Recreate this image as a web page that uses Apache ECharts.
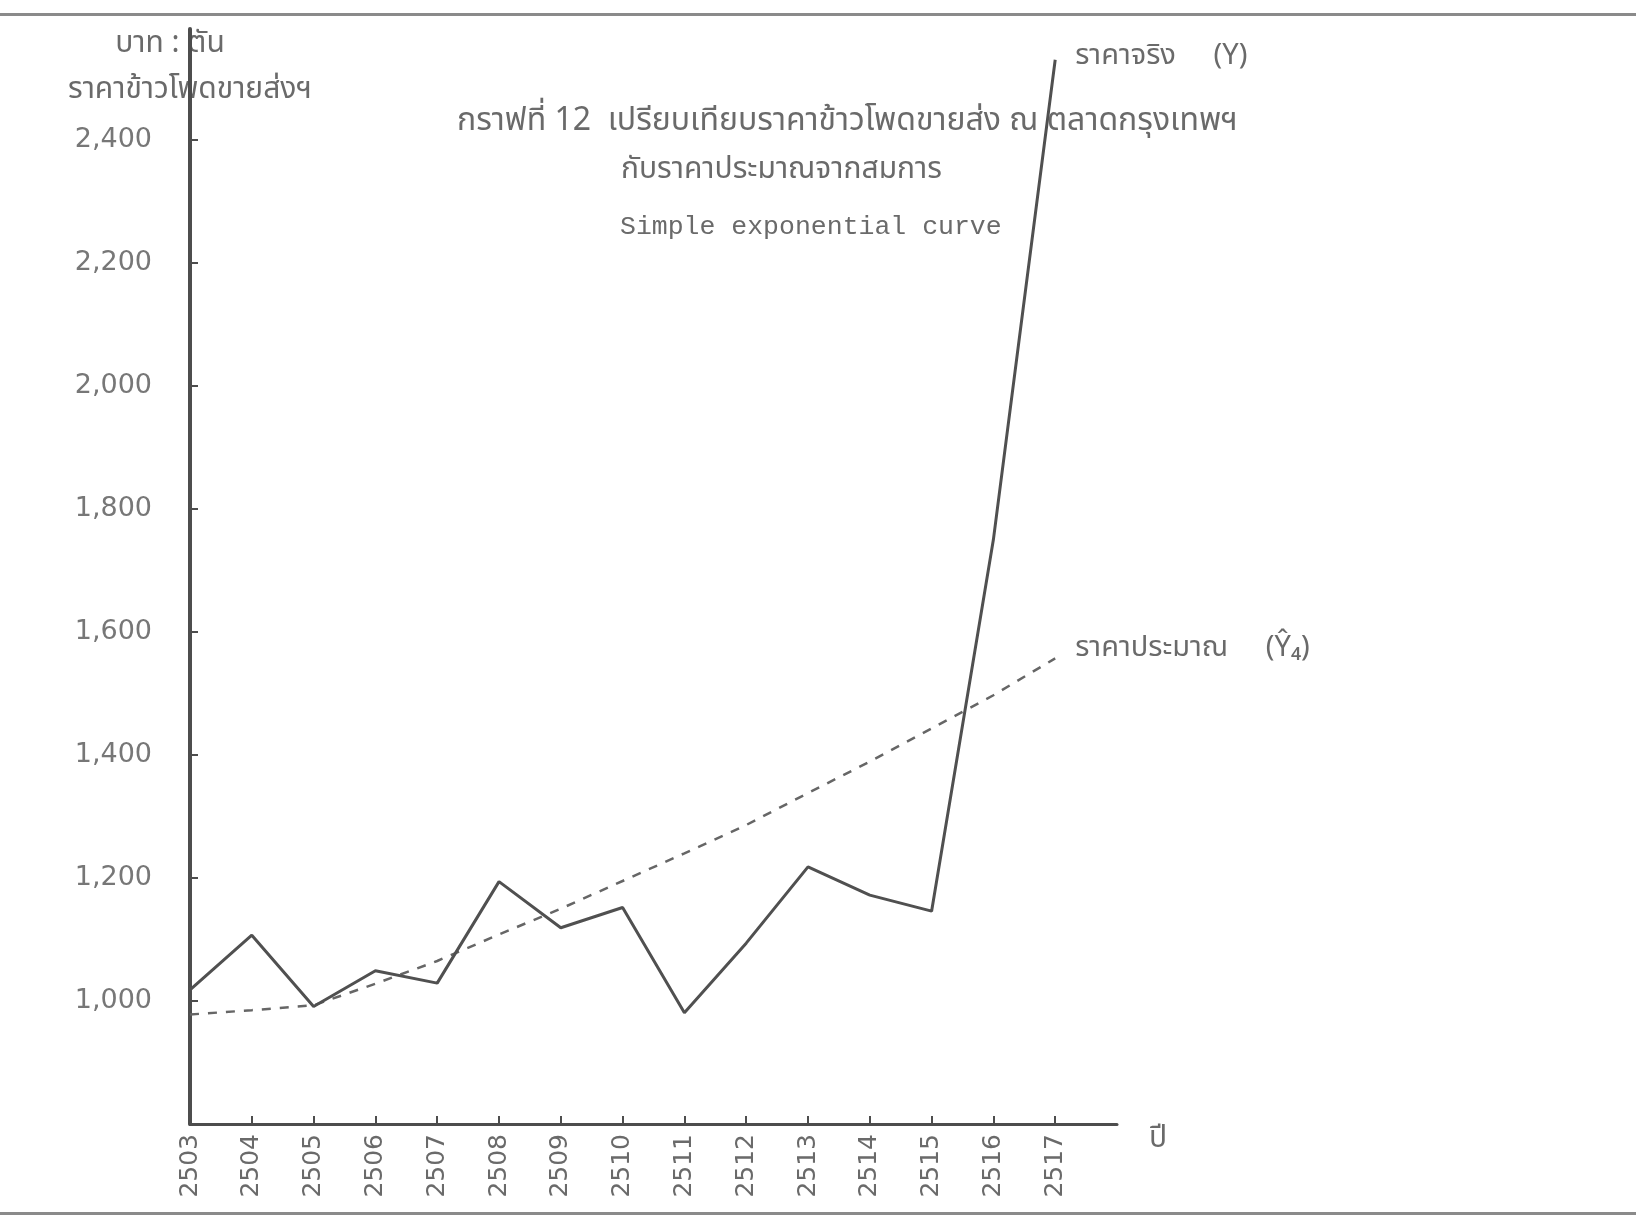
<!DOCTYPE html>
<html>
<head>
<meta charset="utf-8">
<script src="https://cdn.jsdelivr.net/npm/echarts@6/dist/echarts.min.js"></script>
<style>
html,body{margin:0;padding:0;background:#fff;}
#c{width:1636px;height:1221px;}
</style>
</head>
<body>
<div id="c"></div>
<script>
// ---- data ----
const years = [2503, 2504, 2505, 2506, 2507, 2508, 2509, 2510, 2511, 2512, 2513, 2514, 2515, 2516, 2517];
const actualPrice = [1018, 1107, 991, 1049, 1029, 1194, 1119, 1152, 981, 1094, 1218, 1172, 1146, 1750, 2530];
const estimatedPrice = [978, 985, 993, 1028, 1065, 1108, 1150, 1195, 1240, 1286, 1338, 1389, 1443, 1497, 1557];
const yTicks = [1000, 1200, 1400, 1600, 1800, 2000, 2200, 2400];

const titleLine1 = 'กราฟที่ 12  เปรียบเทียบราคาข้าวโพดขายส่ง ณ ตลาดกรุงเทพฯ';
const titleLine2 = 'กับราคาประมาณจากสมการ';
const titleLine3 = 'Simple exponential curve';
const yName1 = 'บาท : ตัน';
const yName2 = 'ราคาข้าวโพดขายส่งฯ';
const xName = 'ปี';
const actualName = 'ราคาจริง     (Y)';
const estName = 'ราคาประมาณ     (Ŷ₄)';

const thai = "'Noto Sans Thai', 'Noto Sans', 'DejaVu Sans', sans-serif";
const txt = '#6a6a6a';
const ink = '#4d4d4d';

const chart = echarts.init(document.getElementById('c'), null, {renderer: 'canvas'});
chart.setOption({
  backgroundColor: '#ffffff',
  animation: false,
  title: [
    {text: titleLine1, left: 452, top: 103, textStyle: {fontFamily: thai, fontSize: 32, fontWeight: 'normal', color: txt}},
    {text: titleLine2, left: 616, top: 152, textStyle: {fontFamily: thai, fontSize: 30, fontWeight: 'normal', color: txt}},
    {text: titleLine3, left: 615, top: 208, textStyle: {fontFamily: "'Liberation Mono', monospace", fontSize: 26.5, fontWeight: 'normal', color: txt}}
  ],
  grid: {left: 190, right: 519, top: 29, bottom: 97, containLabel: false},
  xAxis: {
    type: 'value', min: 2503, max: 2518, interval: 1,
    name: xName, nameLocation: 'end', nameGap: 32,
    nameTextStyle: {fontFamily: thai, fontSize: 30, color: txt, align: 'left', verticalAlign: 'top', padding: [2, 0, 0, 0]},
    axisLine: {lineStyle: {color: ink, width: 3}},
    axisTick: {inside: true, length: 8, customValues: years, lineStyle: {color: ink, width: 2}},
    axisLabel: {customValues: years, rotate: 90, margin: 10, fontFamily: "'DejaVu Sans', sans-serif", fontSize: 25, color: txt, formatter: v => String(v)},
    splitLine: {show: false}
  },
  yAxis: {
    type: 'value', min: 800, max: 2580, interval: 200,
    name: '{a|' + yName1 + '}\n{b|' + yName2 + '}',
    nameLocation: 'end', nameGap: 6,
    nameTextStyle: {
      align: 'center', verticalAlign: 'top', color: txt,
      rich: {
        a: {fontFamily: thai, fontSize: 30, color: txt, lineHeight: 46, padding: [0, 40, 0, 0]},
        b: {fontFamily: thai, fontSize: 30, color: txt, lineHeight: 46}
      }
    },
    axisLine: {show: true, lineStyle: {color: ink, width: 4}},
    axisTick: {show: true, inside: true, length: 8, customValues: yTicks, lineStyle: {color: ink, width: 2}},
    axisLabel: {customValues: yTicks, margin: 38, fontFamily: "'DejaVu Sans', sans-serif", fontSize: 27, color: '#777',
      formatter: v => v.toLocaleString('en-US')},
    splitLine: {show: false}
  },
  series: [
    {
      name: actualName, type: 'line', symbol: 'none',
      data: years.map((y, i) => [y, actualPrice[i]]),
      lineStyle: {color: '#505050', width: 3},
      endLabel: {show: true, formatter: actualName, distance: 20, offset: [0, -2], fontFamily: thai, fontSize: 29, color: txt},
      z: 3
    },
    {
      name: estName, type: 'line', symbol: 'none',
      data: years.map((y, i) => [y, estimatedPrice[i]]),
      lineStyle: {color: '#666666', width: 2.5, type: [9, 9]},
      endLabel: {show: true, formatter: estName, distance: 20, offset: [0, -8], fontFamily: thai, fontSize: 29, color: txt},
      z: 2
    }
  ],
  graphic: [
    {type: 'rect', shape: {x: 0, y: 13, width: 1636, height: 3}, style: {fill: '#8a8a8a'}, silent: true},
    {type: 'rect', shape: {x: 0, y: 1212, width: 1636, height: 3}, style: {fill: '#8a8a8a'}, silent: true}
  ]
});
</script>
</body>
</html>
